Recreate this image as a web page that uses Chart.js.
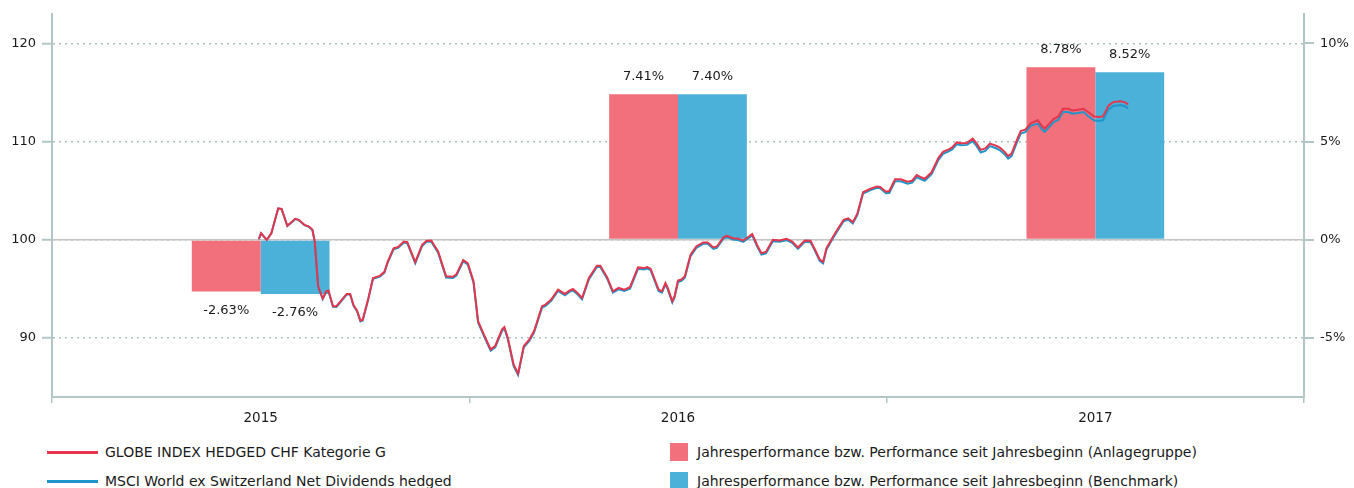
<!DOCTYPE html>
<html>
<head>
<meta charset="utf-8">
<script src="https://cdn.jsdelivr.net/npm/chart.js@4"></script>
<style>
  html, body { margin: 0; padding: 0; background: #fff; }
  #wrap { position: relative; width: 1354px; height: 488px; overflow: hidden; font-family: "DejaVu Sans", sans-serif; color: #1a1a1a; }
  #chart { position: absolute; left: 0; top: 0; }
  .lg-line { position: absolute; width: 51px; height: 3px; }
  .lg-box { position: absolute; width: 18px; height: 18px; }
  .lg-text { position: absolute; font-size: 14px; line-height: 16px; white-space: nowrap; }
</style>
</head>
<body>
<div id="wrap">
  <canvas id="chart" width="1354" height="430"></canvas>
  <div class="lg-line" style="left:47px;top:451px;background:#e5354d"></div>
  <div class="lg-text" style="left:105px;top:444px">GLOBE INDEX HEDGED CHF Kategorie G</div>
  <div class="lg-line" style="left:47px;top:480px;background:#1e96cb"></div>
  <div class="lg-text" style="left:105px;top:473px">MSCI World ex Switzerland Net Dividends hedged</div>
  <div class="lg-box" style="left:670px;top:443px;background:#f1707c"></div>
  <div class="lg-text" style="left:697px;top:444px">Jahresperformance bzw. Performance seit Jahresbeginn (Anlagegruppe)</div>
  <div class="lg-box" style="left:670px;top:472px;background:#4cb1d8"></div>
  <div class="lg-text" style="left:697px;top:473px">Jahresperformance bzw. Performance seit Jahresbeginn (Benchmark)</div>
</div>
<script>
// Jahre (Balken) und Jahresperformance in %
const years = ["2015", "2016", "2017"]
const perfFund = [-2.63, 7.41, 8.78]
const perfBench = [-2.76, 7.40, 8.52]

// Indexverlauf: Tage seit 01.01.2015 und Indexstand (Start = 100)
const days = [
  181, 183, 188, 192, 198, 201, 206, 213, 216, 221,
  225, 228, 230, 233, 237, 240, 242, 246, 249, 258,
  261, 264, 267, 270, 272, 277, 281, 287, 291, 294,
  299, 303, 308, 311, 318, 324, 328, 332, 338, 345,
  351, 354, 360, 364, 369, 373, 378, 384, 388, 394,
  396, 399, 404, 408, 413, 418, 422, 429, 432, 437,
  443, 449, 453, 456, 460, 464, 470, 477, 480, 486,
  491, 496, 501, 506, 513, 518, 521, 524, 531, 534,
  537, 539, 543, 545, 548, 551, 554, 559, 564, 570,
  574, 579, 582, 588, 591, 596, 600, 605, 610, 613,
  617, 621, 625, 631, 637, 643, 648, 653, 659, 664,
  668, 672, 675, 678, 683, 687, 693, 697, 701, 705,
  710, 716, 722, 725, 730, 733, 738, 743, 749, 753,
  757, 760, 764, 770, 776, 780, 785, 788, 792, 796,
  801, 806, 809, 813, 817, 821, 827, 830, 834, 837,
  840, 844, 848, 852, 857, 863, 866, 869, 877, 881,
  885, 890, 893, 898, 903, 907, 912, 916, 920, 925,
  929, 935, 939, 942
]
const globe = [
  100.06, 100.67, 100.00, 100.67, 103.20, 103.14, 101.42, 102.13, 102.03, 101.52,
  101.35, 101.01, 99.83, 95.27, 94.02, 94.76, 94.83, 93.24, 93.24, 94.49,
  94.49, 93.34, 92.81, 91.77, 91.87, 94.08, 96.11, 96.33, 96.74, 97.80,
  99.12, 99.27, 99.83, 99.76, 97.73, 99.49, 99.90, 99.93, 98.81, 96.28,
  96.23, 96.48, 97.95, 97.60, 95.78, 91.72, 90.37, 88.85, 89.19, 90.88,
  91.11, 90.03, 87.34, 86.38, 89.19, 89.87, 90.71, 93.24, 93.41, 93.92,
  94.93, 94.49, 94.83, 94.99, 94.59, 94.08, 96.11, 97.37, 97.37, 96.18,
  94.76, 95.10, 94.93, 95.17, 97.19, 97.12, 97.22, 97.06, 94.93, 94.76,
  95.60, 95.10, 93.75, 94.27, 95.85, 95.95, 96.28, 98.48, 99.32, 99.73,
  99.73, 99.22, 99.32, 100.28, 100.41, 100.16, 100.13, 99.93, 100.33, 100.59,
  99.52, 98.64, 98.76, 100.00, 99.93, 100.10, 99.83, 99.22, 99.93, 99.90,
  98.99, 98.00, 97.75, 99.15, 100.16, 100.94, 102.03, 102.19, 101.80, 102.66,
  104.84, 105.17, 105.43, 105.38, 104.89, 104.96, 106.16, 106.16, 105.91, 106.01,
  106.59, 106.41, 106.21, 106.87, 108.34, 108.95, 109.20, 109.40, 109.91, 109.83,
  109.86, 110.29, 109.86, 109.15, 109.30, 109.79, 109.55, 109.35, 108.95, 108.51,
  108.77, 109.96, 111.07, 111.21, 111.88, 112.16, 111.65, 111.31, 112.32, 112.56,
  113.33, 113.33, 113.17, 113.23, 113.33, 113.00, 112.56, 112.49, 112.56, 113.68,
  114.01, 114.11, 114.01, 113.78
]
const msci = [
  100.04, 100.65, 99.98, 100.65, 103.18, 103.12, 101.40, 102.10, 102.00, 101.49,
  101.31, 100.97, 99.79, 95.21, 93.96, 94.70, 94.77, 93.18, 93.17, 94.42,
  94.42, 93.27, 92.74, 91.69, 91.79, 93.99, 96.02, 96.24, 96.65, 97.71,
  99.02, 99.17, 99.72, 99.65, 97.62, 99.38, 99.79, 99.81, 98.69, 96.16,
  96.11, 96.35, 97.82, 97.47, 95.64, 91.58, 90.23, 88.71, 89.05, 90.74,
  90.97, 89.89, 87.20, 86.24, 89.05, 89.73, 90.57, 93.10, 93.27, 93.78,
  94.79, 94.35, 94.69, 94.85, 94.45, 93.94, 95.97, 97.23, 97.23, 96.04,
  94.62, 94.96, 94.79, 95.03, 97.05, 96.98, 97.08, 96.92, 94.79, 94.62,
  95.46, 94.96, 93.61, 94.13, 95.71, 95.81, 96.14, 98.34, 99.18, 99.59,
  99.59, 99.08, 99.18, 100.14, 100.27, 100.02, 99.99, 99.79, 100.19, 100.45,
  99.38, 98.50, 98.62, 99.86, 99.79, 99.96, 99.69, 99.08, 99.79, 99.76,
  98.85, 97.86, 97.61, 99.01, 100.02, 100.80, 101.89, 102.05, 101.66, 102.52,
  104.70, 105.03, 105.29, 105.24, 104.75, 104.76, 105.96, 105.96, 105.71, 105.81,
  106.39, 106.21, 106.01, 106.67, 108.14, 108.75, 109.00, 109.20, 109.71, 109.63,
  109.66, 110.03, 109.60, 108.89, 109.04, 109.53, 109.29, 109.09, 108.69, 108.25,
  108.51, 109.70, 110.81, 110.95, 111.62, 111.83, 111.32, 110.98, 111.99, 112.23,
  113.00, 113.00, 112.84, 112.90, 113.00, 112.60, 112.16, 112.09, 112.16, 113.28,
  113.61, 113.71, 113.61, 113.38
]

const axisColor = "#b3c6c6"
const gridColor = "#a9bebe"
const textColor = "#1a1a1a"
const fontFamily = "'DejaVu Sans', sans-serif"

Chart.defaults.font.family = fontFamily
Chart.defaults.font.size = 13
Chart.defaults.color = textColor

// durchgezogene Linie bei Index 100 / 0%
const baseLine = {
  id: "baseLine",
  beforeDatasetsDraw(chart) {
    const { ctx, chartArea, scales } = chart
    const y = scales.y.getPixelForValue(100)
    ctx.save()
    ctx.strokeStyle = "#c4c4c4"
    ctx.lineWidth = 1.5
    ctx.beginPath()
    ctx.moveTo(chartArea.left, y)
    ctx.lineTo(chartArea.right, y)
    ctx.stroke()
    ctx.restore()
  },
}

// Prozentwerte über / unter den Balken
const barLabels = {
  id: "barLabels",
  afterDatasetsDraw(chart) {
    const { ctx } = chart
    ctx.save()
    ctx.font = "13px " + fontFamily
    ctx.fillStyle = textColor
    ctx.textAlign = "center"
    ctx.textBaseline = "middle"
    chart.data.datasets.forEach((ds, i) => {
      if (ds.type !== "bar") return
      chart.getDatasetMeta(i).data.forEach((bar, j) => {
        const v = ds.data[j]
        const y = v >= 0 ? bar.y - 18 : bar.y + 19
        ctx.fillText(v.toFixed(2) + "%", bar.x, y)
      })
    })
    ctx.restore()
  },
}

function onlySteps(step) {
  return (scale) => {
    scale.ticks = scale.ticks.filter((t) => Math.abs(t.value / step - Math.round(t.value / step)) < 1e-6)
  }
}

new Chart(document.getElementById("chart"), {
  data: {
    labels: years,
    datasets: [
      {
        type: "line",
        label: "GLOBE INDEX HEDGED CHF Kategorie G",
        data: days.map((d, i) => ({ x: d, y: globe[i] })),
        xAxisID: "xd",
        yAxisID: "y",
        borderColor: "#e5354d",
        borderWidth: 2,
        pointRadius: 0,
        tension: 0,
        order: 1,
      },
      {
        type: "line",
        label: "MSCI World ex Switzerland Net Dividends hedged",
        data: days.map((d, i) => ({ x: d, y: msci[i] })),
        xAxisID: "xd",
        yAxisID: "y",
        borderColor: "#1e96cb",
        borderWidth: 2,
        pointRadius: 0,
        tension: 0,
        order: 2,
      },
      {
        type: "bar",
        label: "Jahresperformance bzw. Performance seit Jahresbeginn (Anlagegruppe)",
        data: perfFund,
        xAxisID: "x",
        yAxisID: "y2",
        backgroundColor: "#f1707c",
        barPercentage: 1,
        categoryPercentage: 0.66,
        order: 3,
      },
      {
        type: "bar",
        label: "Jahresperformance bzw. Performance seit Jahresbeginn (Benchmark)",
        data: perfBench,
        xAxisID: "x",
        yAxisID: "y2",
        backgroundColor: "#4cb1d8",
        barPercentage: 1,
        categoryPercentage: 0.66,
        order: 3,
      },
    ],
  },
  options: {
    responsive: false,
    animation: false,
    layout: { padding: { top: 11, right: 0, left: 0, bottom: 0 } },
    plugins: { legend: { display: false }, tooltip: { enabled: false } },
    scales: {
      x: {
        type: "category",
        position: "bottom",
        offset: true,
        afterFit: (s) => { s.height = 33 },
        border: { color: axisColor, width: 2 },
        grid: { offset: true, drawOnChartArea: false, color: axisColor, tickLength: 6, lineWidth: 1.5 },
        ticks: { padding: 7, font: { size: 13.5 }, color: textColor },
      },
      xd: {
        type: "linear",
        display: false,
        min: 0,
        max: 1096,
      },
      y: {
        type: "linear",
        position: "left",
        min: 84,
        max: 123,
        afterFit: (s) => { s.width = 52 },
        afterBuildTicks: onlySteps(10),
        border: { color: axisColor, width: 2, dash: [2, 4] },
        grid: { color: gridColor, lineWidth: 1.5, tickLength: 10, tickColor: axisColor, tickBorderDash: [], tickWidth: 2 },
        ticks: { padding: 6, stepSize: 10, color: textColor },
      },
      y2: {
        type: "linear",
        position: "right",
        min: -8,
        max: 11.5,
        afterFit: (s) => { s.width = 50 },
        afterBuildTicks: onlySteps(5),
        border: { color: axisColor, width: 2 },
        grid: { drawOnChartArea: false, color: axisColor, tickLength: 10, lineWidth: 2 },
        ticks: { padding: 6, stepSize: 5, color: textColor, callback: (v) => v + "%" },
      },
    },
  },
  plugins: [baseLine, barLabels],
})
</script>
</body>
</html>
